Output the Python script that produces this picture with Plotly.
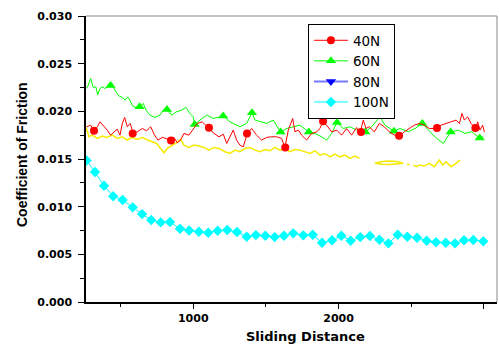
import plotly.graph_objects as go

# ---- 40N (red) ----
x_40 = [266, 294, 317, 340, 358, 381, 408, 431, 454, 477, 496, 512, 528, 546, 565, 587, 615, 649, 679, 707,
        734, 757, 787, 817, 844, 867, 890, 913, 936, 970, 993, 1028, 1062, 1108, 1143, 1177, 1207, 1230, 1252, 1275,
        1298, 1321, 1344, 1372, 1402, 1436, 1470, 1505, 1539, 1574, 1608, 1631, 1654, 1684, 1700, 1723, 1746, 1780, 1815, 1849,
        1872, 1890, 1918, 1952, 1987, 2021, 2055, 2090, 2124, 2138, 2154, 2170, 2189, 2211, 2246, 2280, 2315, 2349, 2384, 2418,
        2452, 2487, 2521, 2556, 2590, 2624, 2670, 2705, 2739, 2774, 2808, 2831, 2849, 2865, 2888, 2911, 2941, 2957, 2973, 2991,
        3003]
y_40 = [0.01838, 0.01855, 0.01796, 0.01838, 0.01890, 0.01855, 0.01803, 0.01750, 0.01785, 0.01813,
        0.01750, 0.01873, 0.01936, 0.01838, 0.01873, 0.01775, 0.01785, 0.01820, 0.01796, 0.01838,
        0.01750, 0.01699, 0.01727, 0.01716, 0.01699, 0.01727, 0.01670, 0.01699, 0.01768, 0.01750,
        0.01803, 0.01873, 0.01890, 0.01820, 0.01768, 0.01733, 0.01760, 0.01663, 0.01733, 0.01803,
        0.01699, 0.01646, 0.01628, 0.01768, 0.01820, 0.01750, 0.01699, 0.01727, 0.01733, 0.01733,
        0.01716, 0.01621, 0.01803, 0.01925, 0.01785, 0.01803, 0.01750, 0.01699, 0.01768, 0.01785,
        0.01820, 0.01890, 0.01855, 0.01785, 0.01803, 0.01750, 0.01820, 0.01750, 0.01830, 0.01785,
        0.01810, 0.01908, 0.01820, 0.01838, 0.01785, 0.01873, 0.01838, 0.01785, 0.01750, 0.01740,
        0.01785, 0.01820, 0.01855, 0.01873, 0.01855, 0.01820, 0.01820, 0.01855, 0.01873, 0.01890,
        0.01908, 0.01873, 0.01978, 0.01908, 0.01943, 0.01873, 0.01820, 0.01890, 0.01803, 0.01855,
        0.01785]
x_40_mk = [317, 583, 847, 1108, 1370, 1633, 1893, 2154, 2416, 2677, 2941]
y_40_mk = [0.01796, 0.01768, 0.01695, 0.01827, 0.01768, 0.01621, 0.01897, 0.01782, 0.01743, 0.01824, 0.01824]

# ---- 60N (green) ----
x_60 = [265, 278, 294, 312, 330, 342, 358, 376, 392, 408, 431, 450, 468, 491, 514, 532, 548, 564, 583, 606,
        633, 656, 675, 702, 736, 771, 794, 819, 851, 886, 920, 950, 977, 1000, 1010, 1046, 1092, 1138, 1207, 1252,
        1321, 1367, 1404, 1425, 1459, 1505, 1551, 1601, 1642, 1688, 1734, 1796, 1837, 1883, 1918, 1952, 1989, 2032, 2078, 2124,
        2184, 2227, 2285, 2319, 2381, 2422, 2480, 2526, 2576, 2629, 2675, 2721, 2771, 2824, 2870, 2916, 2971, 2996]
y_60 = [0.02240, 0.02275, 0.02345, 0.02250, 0.02257, 0.02170, 0.02240, 0.02257, 0.02240, 0.02250,
        0.02271, 0.02257, 0.02205, 0.02159, 0.02145, 0.02117, 0.02152, 0.02117, 0.02055, 0.02041,
        0.02048, 0.02083, 0.02013, 0.01960, 0.01936, 0.01960, 0.02013, 0.02030, 0.01960, 0.01995,
        0.02013, 0.02041, 0.01978, 0.01943, 0.01862, 0.01908, 0.01960, 0.01925, 0.01950, 0.01890,
        0.01838, 0.01873, 0.01985, 0.01908, 0.01890, 0.01873, 0.01908, 0.01782, 0.01820, 0.01838,
        0.01855, 0.01782, 0.01768, 0.01733, 0.01698, 0.01768, 0.01883, 0.01820, 0.01838, 0.01803,
        0.01782, 0.01838, 0.01943, 0.01855, 0.01792, 0.01820, 0.01786, 0.01820, 0.01873, 0.01786,
        0.01716, 0.01663, 0.01782, 0.01803, 0.01768, 0.01786, 0.01719, 0.01733]
x_60_mk = [431, 631, 819, 1010, 1206, 1404, 1601, 1796, 1989, 2184, 2381, 2576, 2771, 2971]
y_60_mk = [0.02271, 0.02047, 0.02020, 0.01862, 0.01950, 0.01984, 0.01782, 0.01782, 0.01884, 0.01782,
           0.01792, 0.01873, 0.01782, 0.01720]

# ---- 80N (drawn yellow in the plot) ----
x_80 = [262, 282, 305, 340, 374, 408, 443, 477, 512, 546, 580, 615, 649, 684, 718, 748, 775, 798, 821, 849,
        879, 913, 936, 970, 1005, 1039, 1074, 1108, 1143, 1177, 1218, 1252, 1287, 1321, 1356, 1390, 1425, 1459, 1493, 1528,
        1562, 1597, 1631, 1665, 1700, 1734, 1769, 1803, 1838, 1872, 1906, 1941, 1975, 2010, 2044, 2078, 2113, 2145,
        None,
        2250, 2300, 2350, 2400, 2445, 2400, 2350, 2300, 2250,
        None,
        2470, 2490,
        None,
        2514, 2540, 2556, 2590, 2624, 2659, 2693, 2716, 2739, 2774, 2808, 2835]
y_80 = [0.01840, 0.01733, 0.01750, 0.01716, 0.01740, 0.01727, 0.01750, 0.01716, 0.01733, 0.01699,
        0.01727, 0.01705, 0.01727, 0.01699, 0.01681, 0.01663, 0.01611, 0.01566, 0.01611, 0.01636,
        0.01663, 0.01705, 0.01646, 0.01621, 0.01646, 0.01636, 0.01621, 0.01593, 0.01621, 0.01611,
        0.01576, 0.01558, 0.01593, 0.01576, 0.01611, 0.01621, 0.01593, 0.01576, 0.01600, 0.01586,
        0.01621, 0.01593, 0.01611, 0.01576, 0.01600, 0.01593, 0.01576, 0.01558, 0.01586, 0.01541,
        0.01558, 0.01523, 0.01551, 0.01523, 0.01541, 0.01506, 0.01531, 0.01506,
        None,
        0.01455, 0.01474, 0.01480, 0.01474, 0.01455, 0.01446, 0.01443, 0.01446, 0.01455,
        None,
        0.01443, 0.01443,
        None,
        0.01436, 0.01419, 0.01436, 0.01426, 0.01454, 0.01419, 0.01488, 0.01436, 0.01471, 0.01419,
        0.01454, 0.01488]

# ---- 100N (cyan) ----
x_100 = [266, 324, 386, 449, 514, 583, 648, 711, 776, 840, 909, 972, 1039, 1103, 1168, 1234, 1301, 1368, 1431, 1496,
         1560, 1624, 1688, 1757, 1822, 1886, 1955, 2019, 2083, 2149, 2216, 2281, 2343, 2407, 2473, 2540, 2606, 2670, 2737, 2801,
         2863, 2927, 2996]
y_100 = [0.01484, 0.01363, 0.01220, 0.01110, 0.01070, 0.00993, 0.00922, 0.00860, 0.00835, 0.00839,
         0.00768, 0.00750, 0.00737, 0.00727, 0.00748, 0.00755, 0.00734, 0.00685, 0.00702, 0.00695,
         0.00681, 0.00695, 0.00720, 0.00699, 0.00706, 0.00622, 0.00647, 0.00695, 0.00643, 0.00681,
         0.00692, 0.00653, 0.00615, 0.00706, 0.00685, 0.00674, 0.00643, 0.00626, 0.00622, 0.00615,
         0.00647, 0.00650, 0.00636]

legend_names = ["40N", "60N", "80N", "100N"]

RED, GREEN, YELLOW, CYAN = "#ff0000", "#00ff00", "#f5ea00", "#00ffff"

fig = go.Figure()

fig.add_trace(go.Scatter(x=x_80, y=y_80, mode="lines", line=dict(color=YELLOW, width=1.5),
                         showlegend=False, connectgaps=False, hoverinfo="skip"))
fig.add_trace(go.Scatter(x=x_100, y=y_100, mode="lines+markers", line=dict(color=CYAN, width=1),
                         marker=dict(symbol="diamond", size=8, color=CYAN), showlegend=False))
fig.add_trace(go.Scatter(x=x_60, y=y_60, mode="lines", line=dict(color=GREEN, width=1), showlegend=False))
fig.add_trace(go.Scatter(x=x_60_mk, y=y_60_mk, mode="markers",
                         marker=dict(symbol="triangle-up", size=9, color=GREEN), showlegend=False))
fig.add_trace(go.Scatter(x=x_40, y=y_40, mode="lines", line=dict(color=RED, width=1), showlegend=False))
fig.add_trace(go.Scatter(x=x_40_mk, y=y_40_mk, mode="markers",
                         marker=dict(symbol="circle", size=8, color=RED), showlegend=False))

# legend entries
leg_styles = [
    dict(line=dict(color=RED, width=1), marker=dict(symbol="circle", size=8, color=RED)),
    dict(line=dict(color=GREEN, width=1), marker=dict(symbol="triangle-up", size=9, color=GREEN)),
    dict(line=dict(color="#7878ff", width=2), marker=dict(symbol="triangle-down", size=9, color="#0000ff")),
    dict(line=dict(color=CYAN, width=1), marker=dict(symbol="diamond", size=8, color=CYAN)),
]
for name, st in zip(legend_names, leg_styles):
    fig.add_trace(go.Scatter(x=[None], y=[None], mode="lines+markers", name=name, **st))

tickfont = dict(family="DejaVu Sans", size=11, color="black", weight="bold")

fig.update_xaxes(range=[262, 3090], tick0=0, dtick=1000, ticks="outside", ticklen=5, tickwidth=1,
                 tickcolor="black", showline=True, linecolor="black", linewidth=1.5, showgrid=False,
                 zeroline=False, tickfont=tickfont,
                 minor=dict(dtick=500, ticks="outside", ticklen=3, tickcolor="black", showgrid=False))
fig.update_yaxes(range=[0, 0.030], tick0=0, dtick=0.005, tickformat=".3f", ticks="outside", ticklen=6,
                 tickwidth=1, tickcolor="black", showline=True, linecolor="black", linewidth=1.5,
                 showgrid=False, zeroline=False, tickfont=tickfont, ticklabelstandoff=4,
                 minor=dict(dtick=0.0025, ticks="outside", ticklen=4, tickcolor="black", showgrid=False))

fig.update_layout(
    width=499, height=347,
    margin=dict(l=86, r=2, t=16, b=45),
    plot_bgcolor="white", paper_bgcolor="white",
    legend=dict(x=0.54, y=0.972, xanchor="left", yanchor="top", bgcolor="white",
                bordercolor="black", borderwidth=1, itemwidth=34,
                font=dict(family="DejaVu Sans", size=13.5, color="black")),
    shapes=[
        dict(type="line", xref="paper", yref="paper", x0=0, x1=1, y0=1, y1=1,
             line=dict(color="#888888", width=1)),
        dict(type="line", xref="paper", yref="paper", x0=1, x1=1, y0=0, y1=1,
             line=dict(color="#888888", width=1)),
    ],
    annotations=[
        dict(text="Sliding Distance", xref="paper", yref="paper", x=0.533, y=-0.119,
             xanchor="center", yanchor="middle", showarrow=False,
             font=dict(family="DejaVu Sans", size=13, color="black", weight="bold")),
        dict(text="Coefficient of Friction", xref="paper", yref="paper", x=-0.156, y=0.517,
             xanchor="center", yanchor="middle", showarrow=False, textangle=-90,
             font=dict(family="Liberation Sans", size=14, color="black", weight="bold")),
    ],
)

fig.write_html("out.html")
